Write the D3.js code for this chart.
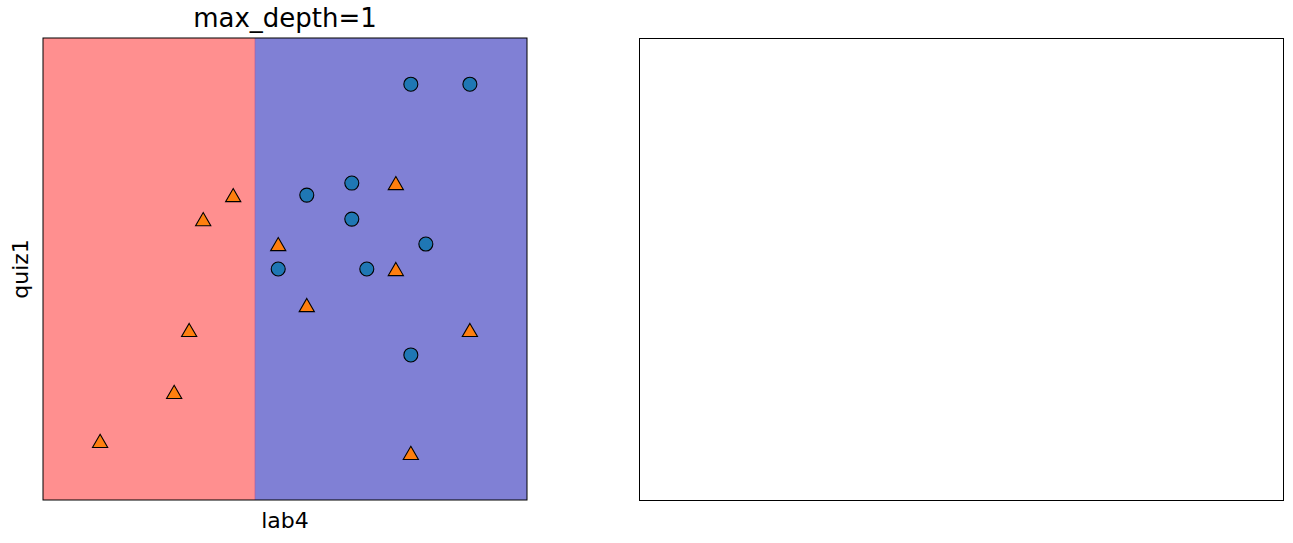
<!DOCTYPE html>
<html><head><meta charset="utf-8">
<script src="https://cdn.jsdelivr.net/npm/d3@7"></script>
<style>body{margin:0;background:#fff}svg{display:block;font-family:"DejaVu Sans",sans-serif}</style>
</head><body>
<svg id="c" width="1293" height="543"></svg>
<script>
const circleX = [76.0, 88.2, 54.5, 63.8, 63.8, 79.1, 48.6, 66.9, 76.0];
const circleY = [90.0, 90.0, 66.0, 68.6, 60.8, 55.4, 50.0, 50.0, 31.4];
const triX = [39.3, 33.1, 72.9, 48.6, 72.9, 54.5, 30.2, 88.2, 27.1, 11.8, 76.0];
const triY = [66.0, 60.8, 68.6, 55.4, 50.0, 42.2, 36.8, 36.8, 23.4, 12.8, 10.2];
const threshold = 43.8;
const xDomain = [0, 100], yDomain = [0, 100];
const title = "max_depth=1", xLabel = "lab4", yLabel = "quiz1";

const svg = d3.select("#c");
const L = {x0: 43, x1: 527, y0: 38, y1: 500};
const x = d3.scaleLinear().domain(xDomain).range([L.x0, L.x1]);
const y = d3.scaleLinear().domain(yDomain).range([L.y1, L.y0]);

svg.append("rect").attr("x", x(xDomain[0])).attr("y", y(yDomain[1]))
  .attr("width", x(threshold) - x(xDomain[0])).attr("height", y(yDomain[0]) - y(yDomain[1]))
  .attr("fill", "#ff8f8f");
svg.append("rect").attr("x", x(threshold)).attr("y", y(yDomain[1]))
  .attr("width", x(xDomain[1]) - x(threshold)).attr("height", y(yDomain[0]) - y(yDomain[1]))
  .attr("fill", "#8080d5");
svg.append("line").attr("x1", x(threshold)).attr("x2", x(threshold))
  .attr("y1", y(yDomain[1])).attr("y2", y(yDomain[0]))
  .attr("stroke", "#b05a9a").attr("stroke-width", 1).attr("opacity", 0.6);

const g = svg.append("g");
g.selectAll("circle.pt").data(circleX.map((v, i) => [v, circleY[i]])).join("circle")
  .attr("class", "pt").attr("cx", d => x(d[0])).attr("cy", d => y(d[1])).attr("r", 7)
  .attr("fill", "#1f77b4").attr("stroke", "#000").attr("stroke-width", 1.1);
const tri = d3.symbol().type(d3.symbolTriangle).size(100);
g.selectAll("path.tri").data(triX.map((v, i) => [v, triY[i]])).join("path")
  .attr("class", "tri").attr("d", tri)
  .attr("transform", d => `translate(${x(d[0])},${y(d[1]) + 2.2})`)
  .attr("fill", "#ff7f0e").attr("stroke", "#000").attr("stroke-width", 1.1);

svg.append("rect").attr("x", L.x0).attr("y", L.y0).attr("width", L.x1 - L.x0).attr("height", L.y1 - L.y0)
  .attr("fill", "none").attr("stroke", "#000").attr("stroke-width", 1);

svg.append("text").attr("x", (L.x0 + L.x1) / 2).attr("y", 27).attr("text-anchor", "middle")
  .attr("font-size", 26).text(title);
svg.append("text").attr("x", (L.x0 + L.x1) / 2).attr("y", 528).attr("text-anchor", "middle")
  .attr("font-size", 22).text(xLabel);
svg.append("text").attr("transform", `translate(28,${(L.y0 + L.y1) / 2}) rotate(-90)`)
  .attr("text-anchor", "middle").attr("font-size", 22).text(yLabel);

svg.append("rect").attr("x", 639.5).attr("y", 38.5).attr("width", 644).attr("height", 462)
  .attr("fill", "none").attr("stroke", "#000").attr("stroke-width", 1);
</script>
</body></html>
